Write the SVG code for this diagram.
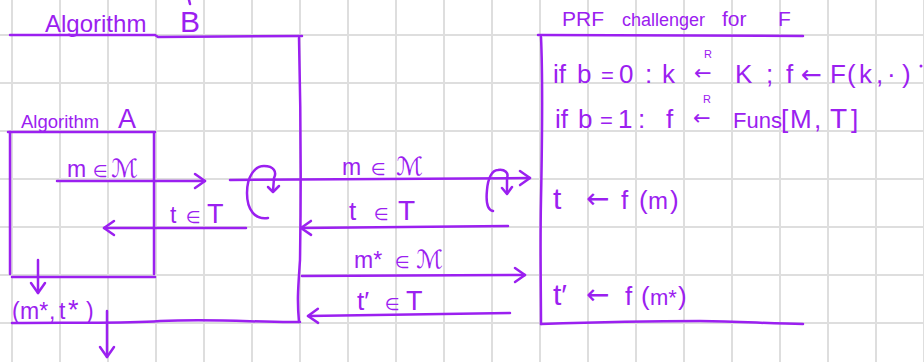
<svg xmlns="http://www.w3.org/2000/svg" width="924" height="362" viewBox="0 0 924 362">
<style>
.grid line{stroke:#dedede;stroke-width:2}
.ink{fill:none;stroke:#9b20f0;stroke-width:2.5;stroke-linecap:round;stroke-linejoin:round}
text{fill:#9b20f0;font-family:"Liberation Sans","DejaVu Sans",sans-serif;font-size:23px}
.sm{font-size:11px}
.el{font-size:17px;font-family:"DejaVu Sans",sans-serif}
.cal{font-size:25px;font-family:"DejaVu Sans",sans-serif}
.big{font-size:26px}
.arw{font-family:"DejaVu Sans",sans-serif;font-size:21px}
.arb{font-family:"DejaVu Sans",sans-serif;font-size:28px}
</style>
<defs>
<marker id="ah" viewBox="-12 -9 14 18" refX="0" refY="0" markerWidth="14" markerHeight="18" markerUnits="userSpaceOnUse" orient="auto">
<path d="M-10,-7 L0,0 L-10,7" fill="none" stroke="#9b20f0" stroke-width="2.5" stroke-linecap="round" stroke-linejoin="round"/>
</marker>
</defs>
<rect width="924" height="362" fill="#fff"/>
<g class="grid">
<line x1="12" y1="0" x2="12" y2="362"/><line x1="60" y1="0" x2="60" y2="362"/><line x1="108" y1="0" x2="108" y2="362"/><line x1="156" y1="0" x2="156" y2="362"/><line x1="204" y1="0" x2="204" y2="362"/><line x1="252" y1="0" x2="252" y2="362"/><line x1="300" y1="0" x2="300" y2="362"/><line x1="348" y1="0" x2="348" y2="362"/><line x1="396" y1="0" x2="396" y2="362"/><line x1="444" y1="0" x2="444" y2="362"/><line x1="492" y1="0" x2="492" y2="362"/><line x1="540" y1="0" x2="540" y2="362"/><line x1="588" y1="0" x2="588" y2="362"/><line x1="636" y1="0" x2="636" y2="362"/><line x1="684" y1="0" x2="684" y2="362"/><line x1="732" y1="0" x2="732" y2="362"/><line x1="780" y1="0" x2="780" y2="362"/><line x1="828" y1="0" x2="828" y2="362"/><line x1="876" y1="0" x2="876" y2="362"/><line x1="924" y1="0" x2="924" y2="362"/>
<line x1="0" y1="35" x2="924" y2="35"/><line x1="0" y1="83" x2="924" y2="83"/><line x1="0" y1="131" x2="924" y2="131"/><line x1="0" y1="179" x2="924" y2="179"/><line x1="0" y1="227" x2="924" y2="227"/><line x1="0" y1="275" x2="924" y2="275"/><line x1="0" y1="323" x2="924" y2="323"/>
</g>

<g id="algorithmB">
<path class="ink" d="M10,35 L155,35 L158,37 L302,36"/>
<path class="ink" d="M299,38 C301,120 301,200 300,260 C298,290 297,300 299,322"/>
<path class="ink" d="M12,323 C80,322 120,324 160,321 C220,318 260,323 300,322"/>
<text y="32"><tspan x="45" style="font-size:24px">Algorithm</tspan><tspan x="180" style="font-size:30px">B</tspan></text>
<path class="ink" d="M189,0 L190,4"/>
<text y="319"><tspan x="12">(</tspan><tspan x="20">m*</tspan><tspan x="49">,</tspan><tspan x="59">t</tspan><tspan x="68" style="font-size:27px">*</tspan><tspan x="86">)</tspan></text>
</g>

<g id="algorithmA">
<path class="ink" d="M8,132 L155,132"/>
<path class="ink" d="M10,132 L10,274"/>
<path class="ink" d="M154,133 L154,274"/>
<path class="ink" d="M12,277 L155,277"/>
<text y="128"><tspan x="21" style="font-size:18.5px">Algorithm</tspan><tspan x="118" style="font-size:27px">A</tspan></text>
</g>

<g id="challenger">
<path class="ink" d="M538,35 L803,36"/>
<path class="ink" d="M541,37 C543,80 542,150 541,200 C540,250 541,290 541,324"/>
<path class="ink" d="M541,324 C600,322 650,321 700,321 C740,321 770,324 803,324"/>
<text y="26" style="font-size:21px"><tspan x="562">PRF</tspan><tspan x="622" style="font-size:18px">challenger</tspan><tspan x="722">for</tspan><tspan x="778">F</tspan></text>
<text y="83" class="big"><tspan x="553">if</tspan><tspan x="577">b</tspan><tspan x="601" style="font-size:22px">=</tspan><tspan x="619">0</tspan><tspan x="645">:</tspan><tspan x="662">k</tspan><tspan x="694" y="80" class="arw">←</tspan><tspan x="704" y="58" class="sm">R</tspan><tspan x="735" y="83">K</tspan><tspan x="766">;</tspan><tspan x="786">f</tspan><tspan x="801" class="arw" style="font-size:25px">←</tspan><tspan x="830">F</tspan><tspan x="847">(</tspan><tspan x="859">k</tspan><tspan x="876">,</tspan><tspan x="887">·</tspan><tspan x="902">)</tspan></text>
<circle cx="921" cy="66" r="1.5" fill="#9b20f0"/>
<text y="128" class="big"><tspan x="555">if</tspan><tspan x="578">b</tspan><tspan x="600" style="font-size:22px">=</tspan><tspan x="618">1</tspan><tspan x="638">:</tspan><tspan x="666">f</tspan><tspan x="693" y="125" class="arw">←</tspan><tspan x="703" y="103" class="sm">R</tspan><tspan x="733" y="128" style="font-size:22px">Funs</tspan><tspan x="781">[</tspan><tspan x="790">M</tspan><tspan x="814">,</tspan><tspan x="830" style="font-size:28px">T</tspan><tspan x="851">]</tspan></text>
<text y="209" class="big"><tspan x="553" style="font-size:30px">t</tspan><tspan x="586" y="208" class="arb">←</tspan><tspan x="621" y="209">f</tspan><tspan x="639">(</tspan><tspan x="648" style="font-size:24px">m</tspan><tspan x="670">)</tspan></text>
<text y="305" class="big"><tspan x="553" style="font-size:30px">t′</tspan><tspan x="586" y="304" class="arb">←</tspan><tspan x="625" y="305">f</tspan><tspan x="641">(</tspan><tspan x="650" style="font-size:22px">m*</tspan><tspan x="678">)</tspan></text>
</g>

<g id="connectors">
<path class="ink" d="M57,181 L205,181" marker-end="url(#ah)"/>
<text y="177"><tspan x="67">m</tspan><tspan x="93" class="el">∈</tspan><tspan x="111" class="cal">ℳ</tspan></text>
<path class="ink" d="M230,180 L530,178" marker-end="url(#ah)"/>
<text y="175"><tspan x="342">m</tspan><tspan x="371" class="el">∈</tspan><tspan x="396" class="cal">ℳ</tspan></text>
<path class="ink" d="M246,228 L104,228" marker-end="url(#ah)"/>
<text y="223"><tspan x="170">t</tspan><tspan x="186" class="el">∈</tspan><tspan x="207" style="font-size:27px">T</tspan></text>
<path class="ink" d="M508,226 L301,228" marker-end="url(#ah)"/>
<text y="220"><tspan x="349" style="font-size:26px">t</tspan><tspan x="374" class="el">∈</tspan><tspan x="398" style="font-size:28px">T</tspan></text>
<path class="ink" d="M302,276 L525,275" marker-end="url(#ah)"/>
<text y="268"><tspan x="354">m*</tspan><tspan x="395" class="el">∈</tspan><tspan x="416" class="cal">ℳ</tspan></text>
<path class="ink" d="M510,313 L308,316" marker-end="url(#ah)"/>
<text y="310"><tspan x="357" style="font-size:26px">t′</tspan><tspan x="385" class="el">∈</tspan><tspan x="406" style="font-size:27px">T</tspan></text>
<path class="ink" d="M38,260 L38,293" marker-end="url(#ah)"/>
<path class="ink" d="M107,311 L107,357" marker-end="url(#ah)"/>
<path class="ink" d="M268,218 C255,220 247,210 247,193 C247,176 255,166 264,166 C274,166 277,172 274,178 L273,191"/>
<path class="ink" d="M268,187 L273,192 L279,186"/>
<path class="ink" d="M493,211 C487,210 486,200 487,190 C488,178 492,170 498,170 C505,169 509,173 507,178 L507,193"/>
<path class="ink" d="M502,188 L507,194 L512,187"/>
</g>
</svg>
